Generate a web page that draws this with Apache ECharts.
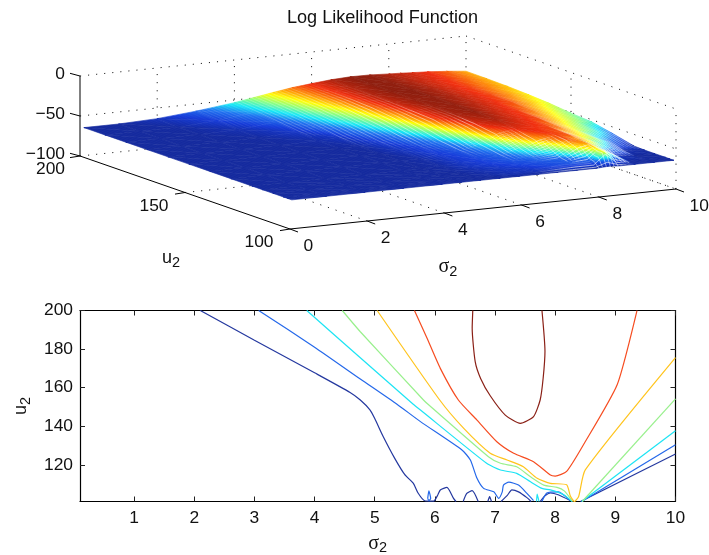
<!DOCTYPE html>
<html>
<head>
<meta charset="utf-8">
<script src="https://cdn.jsdelivr.net/npm/echarts@6/dist/echarts.min.js"></script>
<style>html,body{margin:0;padding:0;background:#fff}#c{width:709px;height:555px}</style>
</head>
<body>
<div id="c"></div>
<script>
// ---------- data ----------
const titleText = 'Log Likelihood Function';
const sigmaTicks3d = [0, 2, 4, 6, 8, 10];
const uTicks3d = [100, 150, 200];
const zTicks3d = [0, -50, -100];
const zTickLabels = ['0', '\u221250', '\u2212100'];
const sigmaTicks = [1, 2, 3, 4, 5, 6, 7, 8, 9, 10];
const uTicks = [120, 140, 160, 180, 200];

// surface heights: one row per u value, one column per sigma value
const sigmaGrid = [0.1, 1, 2, 3, 4, 4.5, 5, 5.5, 6, 6.5, 7, 7.5, 8, 8.3, 8.6, 9, 9.5, 10];
const uGrid = [101, 103, 105, 110, 115, 120, 130, 140, 150, 160, 170, 180, 190, 200];
const zU101 = [-65,-65,-65,-65,-65,-65,-65,-65,-65,-65,-65,-65,-65,-64,-65,-65,-65,-65];
const zU103 = [-65,-65,-65,-65,-65,-65,-65,-65,-64,-63.8,-62.5,-61.5,-61.5,-46,-61,-65,-65,-65];
const zU105 = [-65,-65,-65,-65,-65,-65,-65,-64.5,-63.5,-62.8,-61,-60,-59.5,-47,-54,-65,-65,-65];
const zU110 = [-65,-65,-65,-65,-65,-65,-65,-64,-62.6,-61,-60,-59,-45.4,-44,-51.5,-63,-65,-65];
const zU115 = [-65,-65,-65,-65,-65,-65,-64.8,-63,-61.5,-60,-57,-52,-41,-43.5,-47,-54.6,-64,-65];
const zU120 = [-65,-65,-65,-65,-65,-65,-64.6,-62.7,-61,-59.1,-53.7,-43.8,-40.5,-41.3,-46,-50,-59.5,-64.5];
const zU130 = [-65,-65,-65,-65,-65,-65,-64.5,-61.9,-60,-55.5,-42,-39,-39.8,-40.5,-42.5,-47.4,-52.3,-58.3];
const zU140 = [-65,-65,-65,-65,-65,-65,-63.4,-61,-57.3,-46.5,-38.6,-37.2,-38.8,-39.8,-40.8,-44.6,-49,-52.8];
const zU150 = [-65,-65,-65,-65,-65,-64.6,-62,-57.8,-51,-40.4,-37,-36.3,-38.2,-39.2,-40.2,-42.5,-46.7,-50.8];
const zU160 = [-65,-65,-65,-65,-64.4,-62.9,-58.3,-52.8,-45,-39.3,-36.6,-36.2,-37.6,-38.7,-39.6,-41,-44.6,-48];
const zU170 = [-65,-65,-65,-64.8,-62.6,-58.7,-54,-49,-41.7,-38,-36.3,-36.2,-37.3,-38.4,-39.3,-40.6,-43.3,-46.2];
const zU180 = [-65,-65,-65,-63.9,-59.3,-55.2,-50.5,-45.3,-40.3,-37.3,-36,-36.1,-37.2,-38.3,-39.2,-40.4,-42.7,-44.9];
const zU190 = [-65,-65,-64.8,-61.6,-56,-52,-47.7,-43.2,-39.8,-37.3,-36,-36.1,-37.3,-38.2,-39,-40,-42,-44.3];
const zU200 = [-65,-65,-63.3,-59,-53.3,-49.5,-45.6,-42,-39.5,-37.2,-36,-36.2,-37.4,-38,-38.8,-39.8,-41.6,-44];

// contour lines [sigma, u]
const c1a = [[2.1,200],[3,184.6],[4,167.7],[4.59,157.5],[4.76,153.6],[4.92,148.5],[5,144],[5.14,134.7],[5.33,123.5],[5.5,114.9],[5.64,110.5],[5.72,105.4],[5.83,101.4],[5.98,101.2],[6.05,104.5],[6.09,107],[6.2,108.3],[6.31,102.6],[6.35,101]];
const c1b = [[6.47,101],[6.53,105.2],[6.62,106.6],[6.72,101]];
const c1c = [[6.88,101],[6.91,103.5],[6.94,101]];
const c1d = [[7.1,101],[7.2,104],[7.28,107],[7.39,106],[7.53,103],[7.6,101]];
const c1e = [[7.75,101],[7.83,104],[7.92,105.4],[8.05,104.5],[8.25,101.5]];
const c1f = [[8.42,101],[10,125.6]];
const c2a = [[3.07,200],[4,181],[4.76,164.5],[5.37,151.4],[5.76,142.4],[6.45,127.7],[6.59,122.5],[6.7,113],[6.81,107.8],[6.98,106],[7.06,102.6],[7.12,106],[7.14,109.5],[7.23,111],[7.39,109.5],[7.53,105.2],[7.64,101.5]];
const c2b = [[5.88,102.5],[5.9,106.5],[5.93,102.5],[5.9,101.5],[5.88,102.5]];
const c2c = [[7.78,101],[7.86,105.4],[8.05,106],[8.25,101.5]];
const c2d = [[8.44,101],[10,130.4]];
const c3a = [[3.87,200],[4.76,175.5],[5.64,151.4],[5.76,148.4],[6.86,120.8],[7.09,117.3],[7.36,115.6],[7.59,111.2],[7.78,107.8],[7.92,107],[8.14,104.5],[8.28,101]];
const c3b = [[7.69,101],[7.7,104.8],[7.73,101]];
const c3c = [[8.44,101],[10,137.7]];
const c4a = [[4.46,200],[4.76,189],[5.81,153.6],[5.9,151],[6.89,124.2],[7.09,120.8],[7.36,119],[7.59,113.8],[7.81,109.5],[8.03,108.3],[8.15,106.5],[8.29,101]];
const c4b = [[8.45,101],[10,154.2]];
const c5a = [[5.04,200],[6.08,153.6],[6.48,138.9],[6.92,126],[7.2,122.5],[7.47,119],[7.7,113],[7.92,110.4],[8.19,109.7],[8.25,104],[8.32,101],[8.39,103.6],[8.5,117.4],[10,175.6]];
const c6a = [[5.66,200],[5.87,185.6],[6.09,170],[6.39,153.6],[6.7,143.2],[7.03,132],[7.31,126],[7.64,121.6],[7.92,114.7],[8,114.2],[8.19,116.6],[8.47,130.4],[9.03,161.5],[9.36,200]];
const c7a = [[6.63,200],[6.62,190.8],[6.67,173.5],[6.76,164.8],[6.92,155.8],[7.17,145.8],[7.42,141.5],[7.64,145],[7.75,153.6],[7.8,165],[7.83,178.8],[7.78,200]];

// ---------- styling and layout ----------
const FONT = '"Liberation Sans", Arial, sans-serif';
const INK = '#111';
const FS = 17.4;
const jetStops = [
  [0, '#0d239b'], [0.12, '#1238d8'], [0.25, '#1c70f0'], [0.37, '#10e8f8'],
  [0.5, '#88ff80'], [0.63, '#ffff00'], [0.75, '#ff9000'], [0.87, '#f02808'], [1, '#8a1606']
];
const colorStops = jetStops.map(s => ({ offset: s[0], color: s[1] }));
const Z_LOW = -65, Z_HIGH = -36;
const X0 = 290, Y0 = 229, SX = 386, SY = -40, UX = -210, UY = -73, ZS = 0.8;
const project = (s, u, z) => [X0 + s / 10 * SX + (u - 100) / 100 * UX, Y0 + s / 10 * SY + (u - 100) / 100 * UY - (z + 100) * ZS];
const zRows = [zU101, zU103, zU105, zU110, zU115, zU120, zU130, zU140, zU150, zU160, zU170, zU180, zU190, zU200];
const tOf = z => (z - Z_LOW) / (Z_HIGH - Z_LOW);

function colorAt(t) {
  t = Math.max(0, Math.min(1, t));
  let i = 0;
  while (i < jetStops.length - 2 && t > jetStops[i + 1][0]) i++;
  return jetStops[t - jetStops[i][0] < jetStops[i + 1][0] - t ? i : i + 1][1];
}
function triangle(api, a, b, c) {
  const pts = [a, b, c].map(v => api.coord(project(v[0], v[1], v[2])));
  const ts = [a, b, c].map(v => tOf(v[2]));
  const [x0, y0] = pts[0], [x1, y1] = pts[1], [x2, y2] = pts[2];
  const det = (x1 - x0) * (y2 - y0) - (x2 - x0) * (y1 - y0);
  let fill = colorAt(ts[0]);
  if (Math.abs(det) > 1e-6) {
    const ga = ((ts[1] - ts[0]) * (y2 - y0) - (ts[2] - ts[0]) * (y1 - y0)) / det;
    const gb = ((ts[2] - ts[0]) * (x1 - x0) - (ts[1] - ts[0]) * (x2 - x0)) / det;
    const n = ga * ga + gb * gb;
    if (n > 1e-7) {
      const ax = x0 - ts[0] * ga / n, ay = y0 - ts[0] * gb / n;
      fill = { type: 'linear', global: true, x: ax, y: ay, x2: ax + ga / n, y2: ay + gb / n, colorStops };
    }
  }
  return { type: 'polygon', shape: { points: pts }, style: { fill, stroke: fill, lineWidth: 0.6 } };
}
// cells from the back corner to the front corner
const cells = [];
for (let j = uGrid.length - 2; j >= 0; j--) for (let i = sigmaGrid.length - 2; i >= 0; i--) cells.push([i, j]);

function heightAt(s, u) {
  let i = 0, j = 0;
  while (i < sigmaGrid.length - 2 && s > sigmaGrid[i + 1]) i++;
  while (j < uGrid.length - 2 && u > uGrid[j + 1]) j++;
  const a = (s - sigmaGrid[i]) / (sigmaGrid[i + 1] - sigmaGrid[i]);
  const b = (u - uGrid[j]) / (uGrid[j + 1] - uGrid[j]);
  const r0 = zRows[j], r1 = zRows[j + 1];
  return (r0[i] * (1 - a) + r0[i + 1] * a) * (1 - b) + (r1[i] * (1 - a) + r1[i + 1] * a) * b;
}
// thin gaps of the mesh, showing where neighbouring mesh lines spread apart
const gapLines = [];
for (let s = 0.15; s < 10; s += 0.1) gapLines.push(['s', s]);
for (let u = 101.5; u < 135; u += 1) gapLines.push(['u', u]);
// faint texture of the mesh on the whole sheet
const weaveLines = [];
for (let s = 0.15; s < 10; s += 0.1) weaveLines.push(['s', s]);
for (let u = 101.5; u < 200; u += 1) weaveLines.push(['u', u]);

// frame of the 3-D box
const frameDotted = [];
const frameSolid = [];
const frameTexts = [];
zTicks3d.forEach(z => {
  frameDotted.push([[0, 200, z], [10, 200, z]], [[10, 200, z], [10, 100, z]]);
});
sigmaTicks3d.forEach(s => {
  if (s > 0) frameDotted.push([[s, 200, -100], [s, 200, 0]]);
  if (s > 0) frameDotted.push([[s, 100, -100], [s, 200, -100]]);
});
frameDotted.push([[0, 150, -100], [10, 150, -100]], [[10, 150, -100], [10, 150, 0]], [[10, 100, -100], [10, 100, 0]]);
frameSolid.push([[0, 200, -100], [0, 200, 0]], [[0, 100, -100], [0, 200, -100]], [[0, 100, -100], [10, 100, -100]]);

const series = [];
const base3d = { type: 'custom', xAxisIndex: 0, yAxisIndex: 0, silent: true, animation: false, clip: false };
series.push({ ...base3d, z: 2,
  data: frameDotted.map((d, i) => [i, 0]),
  renderItem: (p, api) => {
    const seg = frameDotted[p.dataIndex];
    const a = api.coord(project(...seg[0])), b = api.coord(project(...seg[1]));
    return { type: 'line', shape: { x1: a[0], y1: a[1], x2: b[0], y2: b[1] }, style: { stroke: '#000', lineWidth: 0.9, lineDash: [1.1, 7] } };
  }
});
series.push({ ...base3d, z: 3,
  data: cells.map((d, i) => [i, 0]),
  renderItem: (p, api) => {
    const [i, j] = cells[p.dataIndex];
    const v = (ii, jj) => [sigmaGrid[ii], uGrid[jj], zRows[jj][ii]];
    return { type: 'group', children: [
      triangle(api, v(i + 1, j + 1), v(i, j + 1), v(i + 1, j)),
      triangle(api, v(i, j + 1), v(i, j), v(i + 1, j))
    ] };
  }
});
series.push({ ...base3d, z: 4,
  data: weaveLines.map((d, i) => [i, 0]),
  renderItem: (p, api) => {
    const [kind, val] = weaveLines[p.dataIndex];
    const pts = kind === 's'
      ? uGrid.map(u => api.coord(project(val, u, heightAt(val, u))))
      : sigmaGrid.map(s => api.coord(project(s, val, heightAt(s, val))));
    return { type: 'polyline', shape: { points: pts }, style: { fill: 'none', stroke: '#fff', lineWidth: 0.5, opacity: 0.06 } };
  }
});
series.push({ ...base3d, z: 4,
  data: gapLines.map((d, i) => [i, 0]),
  renderItem: (p, api) => {
    const [kind, val] = gapLines[p.dataIndex];
    const children = [];
    if (kind === 's') {
      for (let j = 0; j < uGrid.length - 1; j++) {
        const n = Math.max(1, Math.round((uGrid[j + 1] - uGrid[j]) / 2));
        for (let k = 0; k < n; k++) {
          const u0 = uGrid[j] + (uGrid[j + 1] - uGrid[j]) * k / n, u1 = uGrid[j] + (uGrid[j + 1] - uGrid[j]) * (k + 1) / n;
          const um = (u0 + u1) / 2;
          const slope = Math.abs(heightAt(val + 0.05, um) - heightAt(val - 0.05, um));
          const o = Math.min(0.8, Math.max(0, (slope - 0.4) * 0.9));
          if (o < 0.04) continue;
          const a = api.coord(project(val, u0, heightAt(val, u0))), b = api.coord(project(val, u1, heightAt(val, u1)));
          children.push({ type: 'line', shape: { x1: a[0], y1: a[1], x2: b[0], y2: b[1] }, style: { stroke: '#fff', lineWidth: 0.6, opacity: o } });
        }
      }
    } else {
      for (let s = 4.5; s < 10; s += 0.1) {
        const sm = s + 0.05;
        const slope = Math.abs(heightAt(sm, val + 0.5) - heightAt(sm, val - 0.5));
        const o = Math.min(0.85, Math.max(0, (slope - 0.5) * 0.7));
        if (o < 0.04) continue;
        const a = api.coord(project(s, val, heightAt(s, val))), b = api.coord(project(s + 0.1, val, heightAt(s + 0.1, val)));
        children.push({ type: 'line', shape: { x1: a[0], y1: a[1], x2: b[0], y2: b[1] }, style: { stroke: '#fff', lineWidth: 0.7, opacity: o } });
      }
    }
    return { type: 'group', children };
  }
});
series.push({ ...base3d, z: 5,
  data: frameSolid.map((d, i) => [i, 0]),
  renderItem: (p, api) => {
    const seg = frameSolid[p.dataIndex];
    const a = api.coord(project(...seg[0])), b = api.coord(project(...seg[1]));
    return { type: 'line', shape: { x1: a[0], y1: a[1], x2: b[0], y2: b[1] }, style: { stroke: '#000', lineWidth: 1 } };
  }
});
// ticks and tick labels of the 3-D box
const tickSegs = [];
zTicks3d.forEach((z, i) => {
  tickSegs.push({ p: [0, 200, z], d: [-10, -2.7] });
  frameTexts.push({ p: [0, 200, z], d: [-15, -2], text: zTickLabels[i], align: 'right' });
});
uTicks3d.forEach(u => {
  tickSegs.push({ p: [0, u, -100], d: [-10, 1.6] });
  frameTexts.push({ p: [0, u, -100], d: [u === 200 ? -15 : -16.5, 13.5], text: String(u), align: 'right' });
});
sigmaTicks3d.forEach(s => {
  tickSegs.push({ p: [s, 100, -100], d: [8, 3] });
  frameTexts.push({ p: [s, 100, -100], d: [13.6, 17], text: String(s), align: 'left' });
});
series.push({ ...base3d, z: 5,
  data: tickSegs.map((d, i) => [i, 0]),
  renderItem: (p, api) => {
    const t = tickSegs[p.dataIndex];
    const a = api.coord(project(...t.p));
    return { type: 'line', shape: { x1: a[0], y1: a[1], x2: a[0] + t.d[0], y2: a[1] + t.d[1] }, style: { stroke: '#000', lineWidth: 1 } };
  }
});
series.push({ ...base3d, z: 6,
  data: frameTexts.map((d, i) => [i, 0]),
  renderItem: (p, api) => {
    const t = frameTexts[p.dataIndex];
    const a = api.coord(project(...t.p));
    return { type: 'text', style: { x: a[0] + t.d[0], y: a[1] + t.d[1], text: t.text, align: t.align, verticalAlign: 'middle', fill: INK, fontSize: FS, fontFamily: FONT } };
  }
});
const subRich = {
  s: { fontFamily: '"Liberation Serif", serif', fontSize: 20, fill: INK, color: INK },
  u: { fontFamily: FONT, fontSize: 18, fill: INK, color: INK },
  b: { fontFamily: FONT, fontSize: 14.5, fill: INK, color: INK, padding: [9, 0, 0, 0] }
};
series.push({ ...base3d, z: 6,
  data: [[0, 0], [1, 0]],
  renderItem: (p, api) => {
    const spec = p.dataIndex === 0 ? { at: [171, 258], text: '{u|u}{b|2}' } : { at: [448, 267], text: '{s|\u03c3}{b|2}' };
    const a = api.coord(spec.at);
    return { type: 'text', style: { x: a[0], y: a[1], text: spec.text, align: 'center', verticalAlign: 'middle', rich: subRich } };
  }
});

// contour plot
const contours = [
  { color: '#24389f', segs: [c1a, c1b, c1c, c1d, c1e, c1f] },
  { color: '#2468ea', segs: [c2a, c2b, c2c, c2d] },
  { color: '#1ce4f4', segs: [c3a, c3b, c3c] },
  { color: '#98f08c', segs: [c4a, c4b] },
  { color: '#ffc41c', segs: [c5a] },
  { color: '#f64c20', segs: [c6a] },
  { color: '#8a2016', segs: [c7a] }
];
contours.forEach(c => c.segs.forEach(seg => series.push({
  type: 'line', xAxisIndex: 1, yAxisIndex: 1, data: seg, showSymbol: false, symbol: 'none', smooth: 0.2,
  silent: true, animation: false, lineStyle: { color: c.color, width: 1.2 }, z: 3
})));

const boxLine = { show: true, onZero: false, lineStyle: { color: '#000', width: 1.2 } };
const option = {
  animation: false,
  backgroundColor: '#fff',
  title: { text: titleText, left: 377.5, top: 4, textAlign: 'center', textStyle: { fontFamily: FONT, fontSize: 18.1, fontWeight: 'normal', color: INK } },
  grid: [
    { left: 0, top: 0, width: 709, height: 555, show: false, outerBoundsMode: 'none' },
    { left: 80, top: 310.5, width: 595.5, height: 191, outerBoundsMode: 'none' }
  ],
  xAxis: [
    { gridIndex: 0, type: 'value', min: 0, max: 709, show: false },
    { gridIndex: 1, type: 'value', min: 0.1, max: 10, position: 'bottom', axisLine: boxLine, splitLine: { show: false },
      axisTick: { inside: true, length: 5, customValues: sigmaTicks, lineStyle: { color: '#222' } },
      axisLabel: { customValues: sigmaTicks, fontFamily: FONT, fontSize: FS, color: INK, margin: 8 },
      name: '{s|\u03c3}{b|2}', nameLocation: 'middle', nameGap: 30, nameTextStyle: { rich: subRich } },
    { gridIndex: 1, type: 'value', min: 0.1, max: 10, position: 'top', axisLine: boxLine, splitLine: { show: false },
      axisTick: { inside: true, length: 5, customValues: sigmaTicks, lineStyle: { color: '#222' } }, axisLabel: { show: false } }
  ],
  yAxis: [
    { gridIndex: 0, type: 'value', min: 0, max: 555, inverse: true, show: false },
    { gridIndex: 1, type: 'value', min: 101, max: 200, position: 'left', axisLine: boxLine, splitLine: { show: false },
      axisTick: { inside: true, length: 5, customValues: uTicks, lineStyle: { color: '#222' } },
      axisLabel: { customValues: uTicks, fontFamily: FONT, fontSize: FS, color: INK, margin: 7, padding: [3, 0, 0, 0] },
      name: '{u|u}{b|2}', nameLocation: 'middle', nameGap: 47, nameRotate: 90, nameTextStyle: { rich: subRich } },
    { gridIndex: 1, type: 'value', min: 101, max: 200, position: 'right', axisLine: boxLine, splitLine: { show: false },
      axisTick: { inside: true, length: 5, customValues: uTicks, lineStyle: { color: '#222' } }, axisLabel: { show: false } }
  ],
  series
};
const chart = echarts.init(document.getElementById('c'), null, { renderer: 'canvas' });
chart.setOption(option);
</script>
</body>
</html>
